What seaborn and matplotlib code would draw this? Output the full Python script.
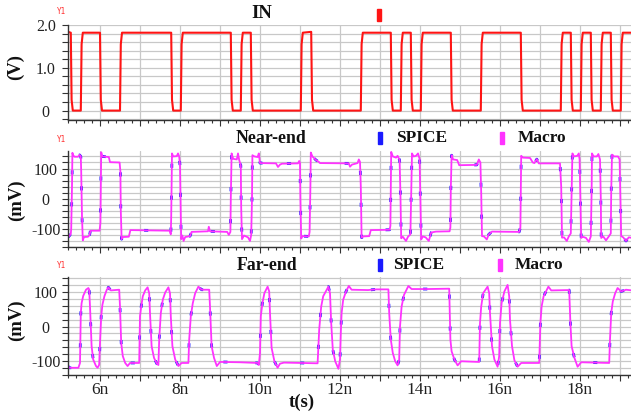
import matplotlib
matplotlib.use("Agg")
import matplotlib.pyplot as plt
import seaborn as sns
from matplotlib.ticker import MultipleLocator, FixedLocator, FixedFormatter, FuncFormatter
from matplotlib.patches import Rectangle

# ---------------- data (t in ns) ----------------
in_t = [5.20,
        5.27, 5.29, 5.32, 5.52, 5.54, 5.57,
        6.00, 6.02, 6.05, 6.50, 6.52, 6.55,
        7.78, 7.80, 7.83, 8.02, 8.04, 8.07,
        9.27, 9.29, 9.32, 9.52, 9.54, 9.57,
        9.77, 9.79, 9.82, 11.02, 11.04, 11.07,
        11.28, 11.30, 11.33, 12.52, 12.54, 12.57,
        13.27, 13.29, 13.32, 13.52, 13.54, 13.57,
        13.77, 13.79, 13.82, 14.02, 14.04, 14.07,
        14.77, 14.79, 14.82, 15.52, 15.54, 15.57,
        16.52, 16.54, 16.57, 17.52, 17.54, 17.57,
        17.77, 17.79, 17.82, 18.02, 18.04, 18.07,
        18.27, 18.29, 18.32, 18.52, 18.54, 18.57,
        18.77, 18.79, 18.82, 19.02, 19.04, 19.07,
        19.30]
in_v = [1.84,
        1.82, 0.25, 0.0, 0.0, 1.55, 1.82,
        1.82, 0.25, 0.0, 0.0, 1.55, 1.82,
        1.82, 0.25, 0.0, 0.0, 1.55, 1.82,
        1.82, 0.25, 0.0, 0.0, 1.55, 1.82,
        1.82, 0.25, 0.0, 0.0, 1.55, 1.82,
        1.84, 0.25, 0.0, 0.0, 1.55, 1.82,
        1.82, 0.25, 0.0, 0.0, 1.55, 1.82,
        1.82, 0.25, 0.0, 0.0, 1.55, 1.82,
        1.82, 0.25, 0.0, 0.0, 1.55, 1.82,
        1.82, 0.25, 0.0, 0.0, 1.55, 1.82,
        1.82, 0.25, 0.0, 0.0, 1.55, 1.82,
        1.82, 0.25, 0.0, 0.0, 1.55, 1.82,
        1.82, 0.25, 0.0, 0.0, 1.55, 1.82,
        1.82]

near_t = [5.20, 5.24, 5.27, 5.28, 5.30, 5.31, 5.33, 5.36, 5.45, 5.49, 5.52, 5.53, 5.55, 5.57,
          5.60, 5.70, 5.74, 5.76, 5.99, 6.01, 6.02, 6.03, 6.06, 6.22, 6.25, 6.49, 6.51, 6.52,
          6.54, 6.57, 6.72, 6.76, 7.74, 7.77, 7.78, 7.79, 7.80, 7.83, 7.92, 7.95, 7.98, 8.00,
          8.02, 8.03, 8.06, 8.09, 8.13, 8.25, 8.29, 8.70, 8.72, 8.75, 9.18, 9.22, 9.26, 9.27,
          9.29, 9.33, 9.42, 9.45, 9.48, 9.52, 9.53, 9.55, 9.60, 9.70, 9.75, 9.78, 9.80, 9.81,
          9.86, 9.94, 9.97, 10.00, 10.40, 10.45, 10.50, 10.55, 10.95, 10.98, 11.00, 11.01,
          11.03, 11.06, 11.22, 11.24, 11.26, 11.27, 11.31, 11.40, 11.47, 11.50, 12.22, 12.25,
          12.30, 12.44, 12.47, 12.50, 12.52, 12.54, 12.58, 12.73, 12.77, 13.24, 13.26, 13.27,
          13.28, 13.32, 13.40, 13.44, 13.49, 13.51, 13.53, 13.57, 13.65, 13.70, 13.76, 13.78,
          13.80, 13.84, 13.90, 13.95, 13.99, 14.01, 14.03, 14.07, 14.14, 14.22, 14.28, 14.40,
          14.74, 14.76, 14.77, 14.79, 14.83, 14.93, 14.98, 15.42, 15.47, 15.51, 15.53, 15.55,
          15.60, 15.67, 15.72, 15.80, 16.48, 16.51, 16.52, 16.53, 16.57, 16.75, 16.82, 16.86,
          16.92, 16.97, 17.50, 17.53, 17.55, 17.60, 17.67, 17.72, 17.77, 17.79, 17.81, 17.85,
          17.93, 17.97, 17.99, 18.01, 18.03, 18.07, 18.15, 18.22, 18.27, 18.29, 18.30, 18.34,
          18.42, 18.46, 18.50, 18.52, 18.53, 18.58, 18.65, 18.72, 18.77, 18.78, 18.80, 18.85,
          18.95, 18.99, 19.01, 19.03, 19.08, 19.15, 19.22, 19.30]
near_mv = [-128, -122, -116, -100, 40, 152, 144, 139, 139, 145, 140, 90, -60, -138,
           -127, -126, -120, -106, -106, -80, 40, 154, 140, 138, 121, 120, 90, -40,
           -134, -127, -126, -104, -106, -118, -60, 60, 150, 140, 141, 150, 140, 110,
           -50, -134, -122, -140, -127, -124, -110, -108, -93, -108, -110, -120, -110, 0,
           150, 132, 130, 150, 128, 110, -30, -134, -122, -128, -140, -120, 0, 144,
           140, 138, 150, 118, 117, 105, 113, 116, 117, 125, 118, 0,
           -132, -124, -125, -110, 40, 153, 140, 128, 122, 118, 117, 106,
           113, 118, 130, 122, 40, -129, -125, -124, -104, -103, -90, 40,
           155, 140, 136, 142, 128, 20, -131, -126, -140, -126, -118, 20,
           150, 140, 142, 150, 132, 0, -135, -125, -128, -140, -112, -109,
           -108, -95, 30, 144, 130, 128, 111, 112, 130, 120, 20, -124,
           -125, -135, -118, -109, -110, -95, 30, 142, 136, 135, 120, 118,
           131, 117, 117, 40, -129, -128, -140, -125, -115, 20, 150, 140,
           142, 150, 130, 0, -130, -126, -130, -143, -125, 20, 150, 140,
           140, 148, 130, 0, -130, -125, -138, -125, -115, 20, 146, 140,
           140, 130, 0, -124, -128, -140, -128, -130]

far_t = [5.20, 5.23, 5.46, 5.50, 5.52, 5.54, 5.58, 5.65, 5.71, 5.73, 5.75, 5.79, 5.83, 5.90,
         5.94, 5.98, 6.00, 6.03, 6.06, 6.11, 6.17, 6.21, 6.27, 6.48, 6.50, 6.53, 6.57, 6.63,
         6.69, 6.75, 6.98, 7.00, 7.03, 7.07, 7.13, 7.19, 7.23, 7.25, 7.29, 7.35, 7.42, 7.46,
         7.48, 7.52, 7.57, 7.63, 7.71, 7.75, 7.77, 7.81, 7.88, 7.96, 8.04, 8.21, 8.23, 8.27,
         8.32, 8.38, 8.46, 8.54, 8.73, 8.75, 8.79, 8.85, 8.92, 9.00, 9.50, 9.94, 9.97, 10.00,
         10.02, 10.06, 10.11, 10.19, 10.23, 10.25, 10.29, 10.36, 10.44, 10.50, 10.60, 11.00,
         11.44, 11.48, 11.53, 11.58, 11.71, 11.75, 11.78, 11.82, 11.88, 11.96, 12.00, 12.02,
         12.04, 12.08, 12.15, 12.22, 12.29, 12.70, 12.90, 13.21, 13.23, 13.27, 13.32, 13.38,
         13.44, 13.48, 13.50, 13.54, 13.60, 13.71, 13.79, 14.20, 14.73, 14.76, 14.79, 14.86,
         14.94, 15.03, 15.48, 15.50, 15.53, 15.58, 15.69, 15.73, 15.75, 15.80, 15.86, 15.94,
         15.98, 16.00, 16.04, 16.11, 16.19, 16.23, 16.25, 16.30, 16.36, 16.44, 16.53, 16.98,
         17.01, 17.04, 17.09, 17.21, 17.28, 17.73, 17.76, 17.79, 17.86, 17.94, 18.03, 18.73,
         18.75, 18.78, 18.82, 18.88, 18.94, 19.03, 19.15, 19.30]
far_mv = [-115, -120, -120, -106, 39, 68, 89, 107, 112, 107, 58, -57, -96, -115,
          -120, -111, -48, 30, 63, 88, 107, 114, 105, 107, 58, -48, -86, -106,
          -115, -106, -106, 30, 58, 88, 105, 114, 97, 39, -57, -91, -108, -112,
          -38, 39, 78, 99, 114, 97, 30, -57, -96, -115, -106, -106, -38, 30,
          68, 97, 116, 107, 107, 58, -57, -91, -115, -103, -104, -106, -112, -77,
          30, 68, 97, 116, 102, 39, -62, -101, -120, -108, -105, -106,
          -107, -9, 58, 88, 116, 97, 10, -67, -101, -123, -96, -19,
          39, 78, 102, 118, 107, 106, 108, 108, 39, -38, -77, -101,
          -113, -96, 0, 58, 92, 118, 109, 109, 110, -38, -72, -96,
          -113, -101, -103, 10, 58, 97, 116, 97, 39, -57, -96, -117,
          -86, 10, 68, 102, 121, 88, 20, -57, -98, -117, -106, -106,
          10, 58, 88, 116, 105, 106, 10, -57, -91, -117, -104, -106,
          -38, 39, 73, 97, 112, 102, 107, 105]

x_major = [6, 7, 8, 9, 10, 11, 12, 13, 14, 15, 16, 17, 18, 19]
in_yticks = [0, 1, 2]
in_ylabels = ["0", "1.0", "2.0"]
mv_yticks = [-100, 0, 100]
mv_ylabels = ["-100", "0", "100"]

# ---------------- styling ----------------
sns.set_theme(style="white")
plt.rcParams['font.family'] = ['Liberation Serif', 'DejaVu Serif']

W, H = 631, 412
fig = plt.figure(figsize=(W / 100, H / 100), dpi=100)


def rect(left, top, right, bottom):
    return [left / W, 1 - bottom / H, (right - left) / W, (bottom - top) / H]


def fx(x):
    return x / W


def fy(y):
    return 1 - y / H


ax1 = fig.add_axes(rect(68, 25, 631, 120))
ax2 = fig.add_axes(rect(68, 151, 631, 247))
ax3 = fig.add_axes(rect(68, 277, 631, 375))

RED = "#ff1414"
BLUE = "#1a1aff"
MAG = "#ff33ff"
GRID = "#c8c8c8"

sns.lineplot(x=in_t, y=in_v, ax=ax1, color=RED, lw=1.5, sort=False, estimator=None)
for ax, tt, vv in [(ax2, near_t, near_mv), (ax3, far_t, far_mv)]:
    sns.lineplot(x=tt, y=vv, ax=ax, color=BLUE, lw=2.0, sort=False, estimator=None)
    ax.lines[-1].set_linestyle((0, (1.5, 10)))
    sns.lineplot(x=tt, y=vv, ax=ax, color=MAG, lw=1.3, sort=False, estimator=None)

ax1.set_ylim(-0.22, 2.0)
ax2.set_ylim(-160, 158)
ax3.set_ylim(-141, 144)

for ax, yt, yl, ystep in [(ax1, in_yticks, in_ylabels, 0.2),
                          (ax2, mv_yticks, mv_ylabels, 20),
                          (ax3, mv_yticks, mv_ylabels, 20)]:
    ax.set_xlim(5.2, 19.275)
    ax.set_xlabel("")
    ax.set_ylabel("")
    ax.xaxis.set_major_locator(FixedLocator(x_major))
    ax.xaxis.set_minor_locator(MultipleLocator(0.2))
    ax.xaxis.set_major_formatter(FuncFormatter(
        lambda v, p: f"{int(round(v))}n" if int(round(v)) % 2 == 0 else ""))
    ax.yaxis.set_major_locator(FixedLocator(yt))
    ax.yaxis.set_major_formatter(FixedFormatter(yl))
    ax.yaxis.set_minor_locator(MultipleLocator(ystep))
    ax.grid(which="major", axis="x", color=GRID, lw=0.9)
    ax.grid(which="both", axis="y", color=GRID, lw=0.9)
    ax.set_axisbelow(True)
    for s in ["top", "right"]:
        ax.spines[s].set_visible(False)
    for s in ["left", "bottom"]:
        ax.spines[s].set_color("#333333")
        ax.spines[s].set_linewidth(1.0)
    ax.tick_params(axis="both", which="both", direction="out", color="#333333",
                   width=0.8, left=True, bottom=True)
    ax.tick_params(axis="y", which="both", length=4.5)
    ax.tick_params(axis="y", which="major", pad=11.5, labelsize=11.5, labelcolor="#222222")
    ax.tick_params(axis="x", which="major", length=4, pad=1, labelsize=12.5,
                   labelcolor="#222222")
    ax.tick_params(axis="x", which="minor", length=2.5)
    for lab in ax.get_yticklabels():
        lab.set_horizontalalignment("center")

ax1.tick_params(axis="x", labelbottom=False)
ax2.tick_params(axis="x", labelbottom=False)

# ---------------- texts ----------------
bold = dict(fontweight="bold", color="#111111", ha="center", va="center")
fig.text(fx(262), fy(14), "IN", fontsize=13.5, **bold)
fig.text(fx(271), fy(138), "Near-end", fontsize=12.8, **bold)
fig.text(fx(267), fy(265), "Far-end", fontsize=12.8, **bold)
fig.text(fx(422), fy(138), "SPICE", fontsize=12.5, **bold)
fig.text(fx(542), fy(138), "Macro", fontsize=12.5, **bold)
fig.text(fx(419), fy(265), "SPICE", fontsize=12.5, **bold)
fig.text(fx(539), fy(265), "Macro", fontsize=12.5, **bold)
fig.text(fx(15), fy(67), "(V)", fontsize=13.5, rotation=90, **bold)
fig.text(fx(16), fy(200), "(mV)", fontsize=13.5, rotation=90, **bold)
fig.text(fx(16), fy(320), "(mV)", fontsize=13.5, rotation=90, **bold)
fig.text(fx(302), fy(402), "t(s)", fontsize=13.5, **bold)

for yy in [12, 139, 265]:
    fig.text(fx(62), fy(yy), "Y1", fontsize=5.5, color="#ff3030", ha="center", va="center",
             family="DejaVu Sans Mono")

for (cx, cy, col) in [(379, 15, RED), (380, 138, BLUE), (502, 138, MAG),
                      (380, 265, BLUE), (500, 265, MAG)]:
    fig.patches.append(Rectangle((fx(cx - 2), fy(cy + 6)), 4 / W, 12 / H,
                                 transform=fig.transFigure, color=col, zorder=5))

fig.savefig("out.png", dpi=100)
